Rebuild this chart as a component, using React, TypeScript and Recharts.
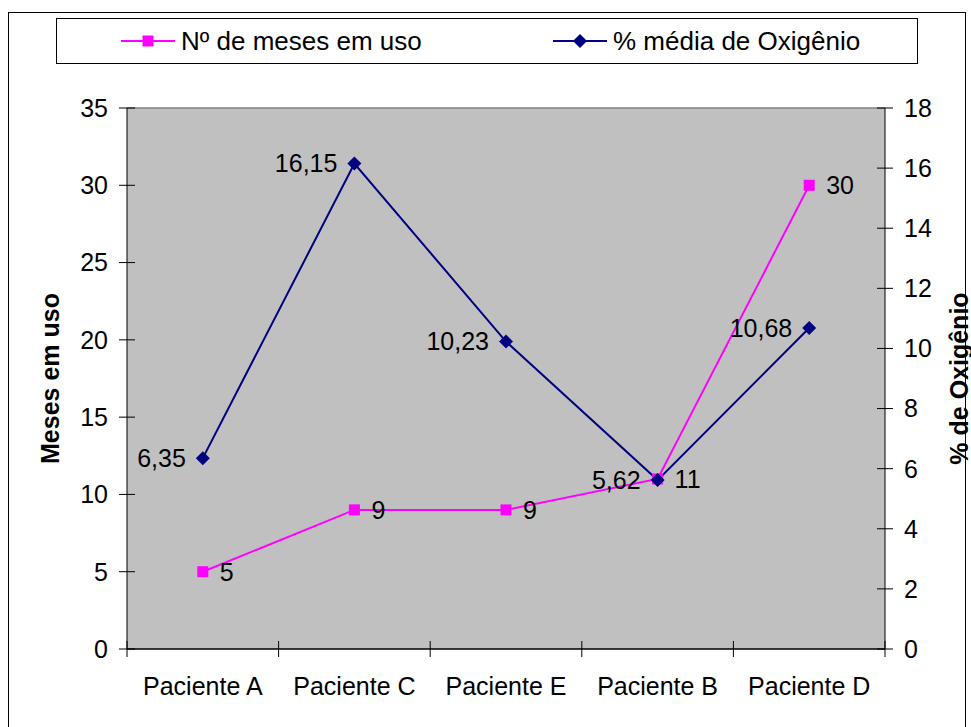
import React from "react";
import {
  LineChart,
  Line,
  XAxis,
  YAxis,
  CartesianGrid,
  ReferenceLine,
  LabelList,
} from "recharts";

const patients = ["Paciente A", "Paciente C", "Paciente E", "Paciente B", "Paciente D"];
const monthsInUse = [5, 9, 9, 11, 30];
const oxygenPct = [6.35, 16.15, 10.23, 5.62, 10.68];
const monthTicks = [0, 5, 10, 15, 20, 25, 30, 35];
const oxygenTicks = [0, 2, 4, 6, 8, 10, 12, 14, 16, 18];

const data = patients.map((name, i) => ({
  name,
  months: monthsInUse[i],
  oxygen: oxygenPct[i],
}));

const FONT = "'Liberation Sans', Arial, sans-serif";
const PINK = "#FF00FF";
const NAVY = "#000080";
const TICK = 8; // ticks cross the axis, this much on each side
const GAP = 11;
const XGAP = 20;

const comma = (v: number) => v.toFixed(2).replace(".", ",");

function LeftTick(props: any) {
  const { x, y, payload } = props;
  const ax = x + TICK + GAP;
  return (
    <g>
      <line x1={ax - TICK} x2={ax + TICK} y1={y} y2={y} stroke="#000" />
      <text x={x} y={y} dy="0.355em" textAnchor="end" fontSize={25} fontFamily={FONT} fill="#000">
        {payload.value}
      </text>
    </g>
  );
}

function RightTick(props: any) {
  const { x, y, payload } = props;
  const ax = x - TICK - GAP;
  return (
    <g>
      <line x1={ax - TICK} x2={ax + TICK} y1={y} y2={y} stroke="#000" />
      <text x={x} y={y} dy="0.355em" textAnchor="start" fontSize={25} fontFamily={FONT} fill="#000">
        {payload.value}
      </text>
    </g>
  );
}

// tick marks sit on the category boundaries, labels in the middle of each band
function CategoryTick(props: any) {
  const { x, y, payload, width, visibleTicksCount, index } = props;
  const half = payload.offset || width / visibleTicksCount / 2;
  const ay = y - TICK - XGAP;
  const left = x - half;
  const isLast = index === visibleTicksCount - 1;
  return (
    <g>
      <line x1={left} x2={left} y1={ay - TICK} y2={ay + TICK} stroke="#000" />
      {isLast && <line x1={x + half} x2={x + half} y1={ay - TICK} y2={ay + TICK} stroke="#000" />}
      <text x={x} y={y} dy="0.71em" textAnchor="middle" fontSize={25} fontFamily={FONT} fill="#000">
        {payload.value}
      </text>
    </g>
  );
}

function SquareDot(props: any) {
  const { cx, cy, index } = props;
  return <rect key={`sq-${index}`} x={cx - 5.5} y={cy - 5.5} width={11} height={11} fill={PINK} />;
}

function DiamondDot(props: any) {
  const { cx, cy, index } = props;
  const r = 7;
  return (
    <polygon
      key={`dm-${index}`}
      points={`${cx},${cy - r} ${cx + r},${cy} ${cx},${cy + r} ${cx - r},${cy}`}
      fill={NAVY}
    />
  );
}

function AxisTitle({ viewBox, text, cx }: any) {
  const cy = viewBox.y + viewBox.height / 2;
  return (
    <text
      x={cx}
      y={cy}
      transform={`rotate(-90 ${cx} ${cy})`}
      textAnchor="middle"
      dominantBaseline="central"
      fontSize={25}
      fontWeight="bold"
      fontFamily={FONT}
      fill="#000"
    >
      {text}
    </text>
  );
}

function LegendBox() {
  return (
    <div
      style={{
        position: "absolute",
        left: 56,
        top: 18,
        width: 862,
        height: 46,
        boxSizing: "border-box",
        border: "1px solid #000",
        background: "#fff",
        fontFamily: FONT,
        fontSize: 26,
      }}
    >
      <svg width={60} height={20} style={{ position: "absolute", left: 62, top: 12 }}>
        <line x1={2} x2={56} y1={10} y2={10} stroke={PINK} strokeWidth={2} />
        <rect x={23.5} y={4.5} width={11} height={11} fill={PINK} />
      </svg>
      <span style={{ position: "absolute", left: 124, top: 6, lineHeight: "32px" }}>Nº de meses em uso</span>
      <svg width={60} height={20} style={{ position: "absolute", left: 494, top: 12 }}>
        <line x1={2} x2={56} y1={10} y2={10} stroke={NAVY} strokeWidth={2} />
        <polygon points="29,3 36,10 29,17 22,10" fill={NAVY} />
      </svg>
      <span style={{ position: "absolute", left: 556, top: 6, lineHeight: "32px" }}>% média de Oxigênio</span>
    </div>
  );
}

export default function App() {
  return (
    <div
      style={{
        position: "absolute",
        left: 0,
        top: 0,
        width: 971,
        height: 727,
        overflow: "hidden",
        background: "#fff",
        fontFamily: FONT,
      }}
    >
      <LineChart width={971} height={727} data={data} margin={{ top: 108, right: 0, bottom: 0, left: 0 }}>
        <CartesianGrid horizontal={false} vertical={false} fill="#C0C0C0" yAxisId="left" />
        <XAxis
          dataKey="name"
          scale="band"
          height={78}
          tickSize={TICK}
          tickMargin={XGAP}
          tickLine={false}
          axisLine={{ stroke: "#000", strokeWidth: 1.5 }}
          tick={<CategoryTick />}
          interval={0}
        />
        <YAxis
          yAxisId="left"
          width={127}
          domain={[0, 35]}
          ticks={monthTicks}
          tickSize={TICK}
          tickMargin={GAP}
          tickLine={false}
          axisLine={{ stroke: "#000" }}
          tick={<LeftTick />}
          label={{ content: (p: any) => <AxisTitle {...p} text="Meses em uso" cx={50} /> }}
        />
        <YAxis
          yAxisId="right"
          orientation="right"
          width={86}
          domain={[0, 18]}
          ticks={oxygenTicks}
          tickSize={TICK}
          tickMargin={GAP}
          tickLine={false}
          axisLine={{ stroke: "#000" }}
          tick={<RightTick />}
          label={{ content: (p: any) => <AxisTitle {...p} text="% de Oxigênio" cx={959} /> }}
        />
        <ReferenceLine yAxisId="left" y={35} stroke="#808080" strokeWidth={1.5} />
        <Line
          yAxisId="left"
          type="linear"
          dataKey="months"
          stroke={PINK}
          strokeWidth={2}
          dot={(p: any) => <SquareDot {...p} />}
          activeDot={false}
          isAnimationActive={false}
        >
          <LabelList dataKey="months" position="right" offset={17} fontSize={25} fontFamily={FONT} fill="#000" />
        </Line>
        <Line
          yAxisId="right"
          type="linear"
          dataKey="oxygen"
          stroke={NAVY}
          strokeWidth={2}
          dot={(p: any) => <DiamondDot {...p} />}
          activeDot={false}
          isAnimationActive={false}
        >
          <LabelList
            dataKey="oxygen"
            position="left"
            offset={17}
            fontSize={25}
            fontFamily={FONT}
            fill="#000"
            formatter={(v: any) => comma(Number(v))}
          />
        </Line>
      </LineChart>
      <div
        style={{
          position: "absolute",
          left: 8,
          top: 12,
          width: 958,
          height: 760,
          boxSizing: "border-box",
          border: "1.5px solid #000",
          pointerEvents: "none",
        }}
      />
      <LegendBox />
    </div>
  );
}
